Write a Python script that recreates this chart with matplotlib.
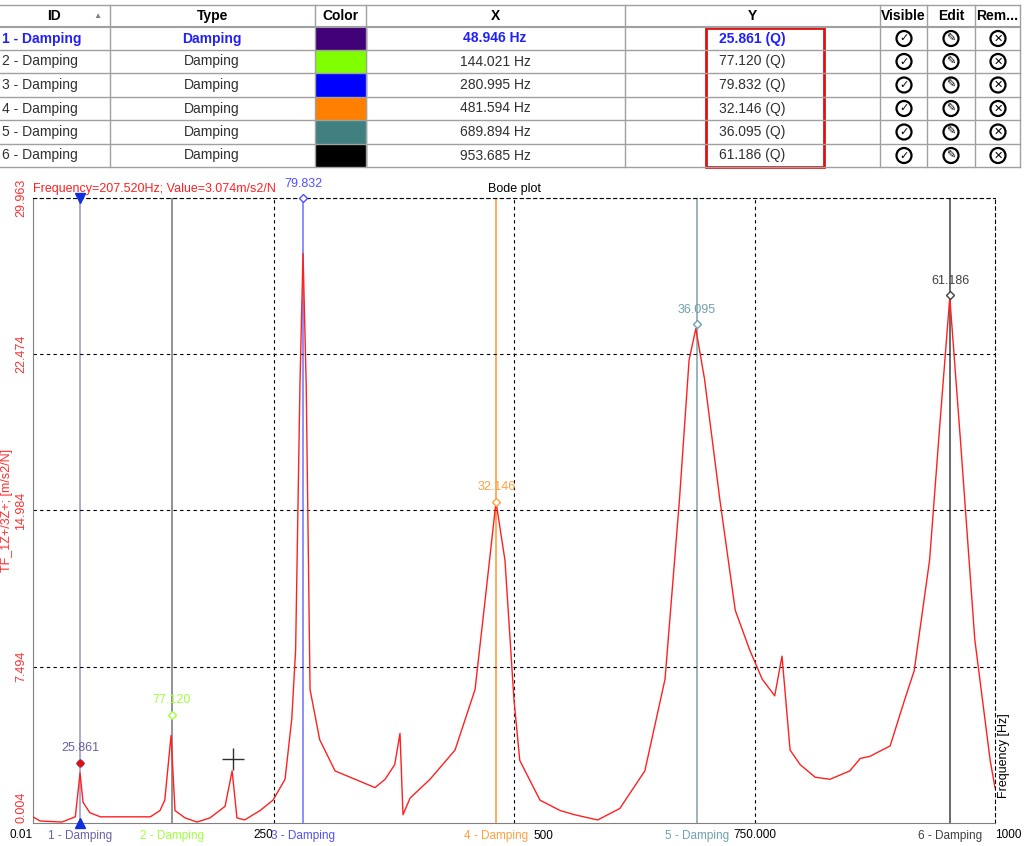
import matplotlib.pyplot as plt
from matplotlib.patches import Rectangle, Circle

W, H = 1024, 846

# damping results
ids = ['1 - Damping', '2 - Damping', '3 - Damping', '4 - Damping', '5 - Damping', '6 - Damping']
freqs = [48.946, 144.021, 280.995, 481.594, 689.894, 953.685]
qvals = [25.861, 77.120, 79.832, 32.146, 36.095, 61.186]
colors = ['#3f0078', '#80ff00', '#0000ff', '#ff8000', '#408080', '#000000']
line_cols = ['#a09cc8', '#808080', '#7a7aff', '#ffa040', '#8aa8b0', '#505050']
label_cols = ['#6a60a8', '#a0ff40', '#5050ff', '#ffa040', '#70a0b0', '#404040']
marker_vals = [2.9, 5.2, 29.963, 15.4, 23.9, 25.3]

# measured frequency response
f = [0, 7.3, 30, 44, 48.9, 52, 59, 70, 122, 132, 137, 143.5, 147.6, 158, 170.5, 184, 199.6, 207,
     212, 220, 236, 249.5, 262, 269, 273, 277.5, 280.7, 284, 288, 298, 314, 340, 355.5, 366, 376,
     381.5, 384.6, 392, 412.7, 438.7, 459.5, 470, 481.3, 490.6, 500, 506, 527, 548, 563, 587, 610,
     636, 657, 672, 682, 689, 698, 714, 730, 745, 758, 771, 778.6, 787, 797.5, 813, 828.5, 849,
     860, 870, 891, 906, 916, 932, 943, 953, 964, 979, 995, 1000]
amp = [0.3, 0.1, 0.05, 0.3, 2.4, 1.0, 0.5, 0.3, 0.3, 0.6, 1.1, 4.2, 0.6, 0.25, 0.05, 0.25, 0.8, 2.5,
       0.25, 0.15, 0.6, 1.1, 2.1, 5.0, 8.3, 21.0, 27.3, 21.0, 6.4, 4.0, 2.5, 2.0, 1.7, 2.1, 2.8,
       4.3, 0.4, 1.2, 2.1, 3.5, 6.4, 10.7, 15.4, 12.6, 5.9, 3.0, 1.1, 0.6, 0.4, 0.15, 0.7,
       2.5, 6.9, 15.5, 22.2, 23.7, 21.3, 15.5, 10.2, 8.3, 6.9, 6.1, 8.0, 3.5, 2.8, 2.2, 2.1, 2.5,
       3.1, 3.2, 3.7, 5.9, 7.3, 12.6, 19.3, 25.2, 18.4, 8.8, 3.0, 1.7]

yticks = [0.004, 7.494, 14.984, 22.474, 29.963]
xticks = [0.01, 250, 500, 750, 1000]
xticklabels = ['0.01', '250', '500', '750.000', '1000']

fig = plt.figure(figsize=(W / 100, H / 100), dpi=100)
plt.rcParams['font.family'] = 'Liberation Sans'

# ---- table ----
tab = fig.add_axes([0, 0, 1, 1])
tab.set_xlim(0, W)
tab.set_ylim(H, 0)
tab.axis('off')
cols = [-2, 110, 315, 366, 625, 880, 927, 975, 1020]
rows = [5, 27, 50, 73, 97, 120, 144, 167]
for x in cols:
    tab.plot([x, x], [rows[0], rows[-1]], color='#a0a0a0', lw=1)
for y in rows:
    tab.plot([cols[0], cols[-1]], [y, y], color='#a0a0a0', lw=1.5 if y == 27 else 1)
heads = ['ID', 'Type', 'Color', 'X', 'Y', 'Visible', 'Edit', 'Rem...']
for i, h in enumerate(heads):
    tab.text((cols[i] + cols[i + 1]) / 2, 16, h, ha='center', va='center', fontsize=10, weight='bold')
tab.text(97, 16, '▲', ha='center', va='center', fontsize=6, color='#808080')
for r in range(6):
    yc = (rows[r + 1] + rows[r + 2]) / 2
    c = '#2020ff' if r == 0 else '#303030'
    w = 'bold' if r == 0 else 'normal'
    tab.text(2, yc, ids[r], ha='left', va='center', fontsize=10, color=c, weight=w)
    tab.text(212, yc, 'Damping', ha='center', va='center', fontsize=10, color=c, weight=w)
    tab.add_patch(Rectangle((316, rows[r + 1] + 1), 50, rows[r + 2] - rows[r + 1] - 2, color=colors[r]))
    tab.text(495, yc, f'{freqs[r]:.3f} Hz', ha='center', va='center', fontsize=10, color=c, weight=w)
    tab.text(752, yc, f'{qvals[r]:.3f} (Q)', ha='center', va='center', fontsize=10, color=c, weight=w)
    for xc, g in [(904, '✓'), (951, '✎'), (998, '✕')]:
        tab.add_patch(Circle((xc, yc), 7.5, fill=False, lw=1.6, ec='black'))
        tab.text(xc, yc, g, ha='center', va='center', fontsize=8, weight='bold', family='DejaVu Sans')
tab.add_patch(Rectangle((706, 28), 118, 139, fill=False, ec='#e01010', lw=2))

# ---- bode plot ----
ax = fig.add_axes([33 / W, (H - 823) / H, 962 / W, 625 / H])
ax.set_xlim(0, 1000)
ax.set_ylim(0.004, 29.963)
ax.plot(f, amp, color='#ff2020', lw=1, zorder=3)
for i in range(6):
    ax.axvline(freqs[i], color=line_cols[i], lw=1.2, zorder=2)
    ax.plot(freqs[i], marker_vals[i], marker='D', ms=4, mfc='white', mec=label_cols[i], zorder=4, clip_on=False)
    ax.annotate(f'{qvals[i]:.3f}', (freqs[i], marker_vals[i]), xytext=(0, 6), textcoords='offset points',
                ha='center', va='bottom', fontsize=9, color=label_cols[i], annotation_clip=False)
    ax.annotate(ids[i], (freqs[i], 0), xytext=(0, -5), textcoords='offset points',
                ha='center', va='top', fontsize=8.5, color=label_cols[i], annotation_clip=False)
ax.plot(freqs[0], marker_vals[0], 'o', color='#e01010', ms=4, zorder=5)
ax.plot(freqs[0], 29.963, 'v', color='#1030e0', ms=7, clip_on=False, zorder=5)
ax.plot(freqs[0], 0.004, '^', color='#1030e0', ms=7, clip_on=False, zorder=5)
ax.plot(207.52, 3.074, '+', color='#303030', ms=16, mew=1, zorder=5)

for y in yticks[1:]:
    ax.axhline(y, color='black', ls=(0, (3, 3)), lw=0.8)
for x in xticks[1:4]:
    ax.axvline(x, color='black', ls=(0, (3, 3)), lw=0.8)
ax.set_yticks(yticks)
ax.set_yticklabels([f'{v:.3f}' for v in yticks], rotation=90, va='center', color='#ff3030', fontsize=9)
ax.get_yticklabels()[0].set_va('bottom')
ax.set_xticks(xticks)
# the 500 label is pushed right of the "4 - Damping" cursor label
ax.set_xticklabels([t if t != '500' else '' for t in xticklabels], fontsize=8.5)
ax.annotate('500', (500, 0), xytext=(14, -5), textcoords='offset points', ha='left', va='top',
            fontsize=8.5, annotation_clip=False)
for lbl, ha in zip(ax.get_xticklabels(), ['right', 'right', 'left', 'center', 'left']):
    lbl.set_ha(ha)
ax.tick_params(length=0, pad=4)
for side in ['top', 'right']:
    ax.spines[side].set_linestyle((0, (3, 3)))
    ax.spines[side].set_linewidth(0.8)
for side in ['left', 'bottom']:
    ax.spines[side].set_color('#808080')
ax.set_ylabel('TF_1Z+/3Z+; [m/s2/N]', color='#ff3030', fontsize=9, labelpad=2)
ax.text(1.003, 0.04, 'Frequency [Hz]', transform=ax.transAxes, rotation=90, ha='left', va='bottom', fontsize=9)
ax.text(0.5, 1.005, 'Bode plot', transform=ax.transAxes, ha='center', va='bottom', fontsize=9)
ax.text(0.0, 1.005, 'Frequency=207.520Hz; Value=3.074m/s2/N', transform=ax.transAxes,
        ha='left', va='bottom', fontsize=9, color='#ff2020')

fig.savefig('out.png', dpi=100)
